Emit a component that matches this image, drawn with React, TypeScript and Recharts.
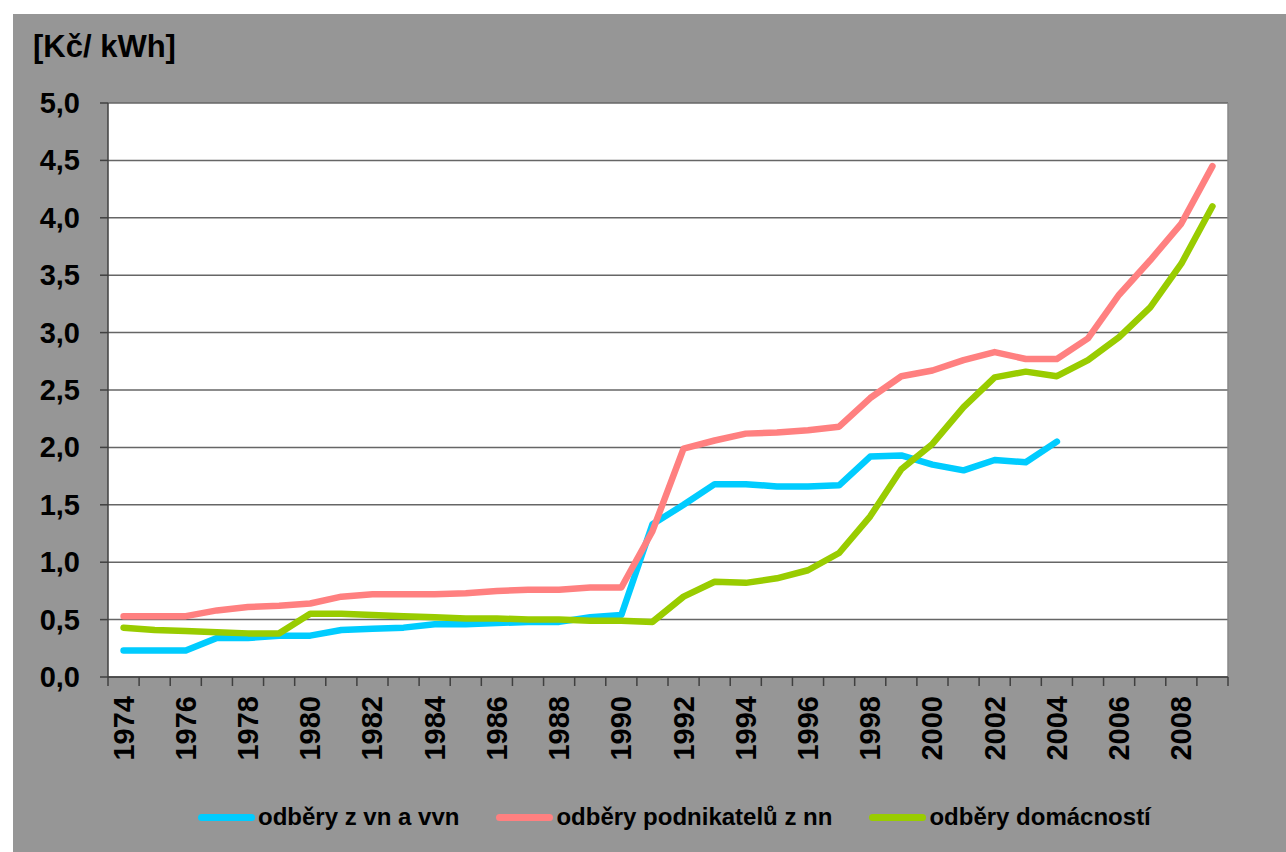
import { LineChart, Line, XAxis, YAxis, CartesianGrid, ReferenceLine } from 'recharts'

// years on the x axis, one category each
const years = [
  1974, 1975, 1976, 1977, 1978, 1979, 1980, 1981, 1982, 1983, 1984, 1985,
  1986, 1987, 1988, 1989, 1990, 1991, 1992, 1993, 1994, 1995, 1996, 1997,
  1998, 1999, 2000, 2001, 2002, 2003, 2004, 2005, 2006, 2007, 2008, 2009,
]

const labelYears = [1974, 1976, 1978, 1980, 1982, 1984, 1986, 1988, 1990, 1992, 1994, 1996, 1998, 2000, 2002, 2004, 2006, 2008]

const yTicks = [0, 0.5, 1, 1.5, 2, 2.5, 3, 3.5, 4, 4.5, 5]

// Kč/kWh
const vnVvn = [
  0.23, 0.23, 0.23, 0.34, 0.34, 0.36, 0.36, 0.41, 0.42, 0.43, 0.46, 0.46,
  0.47, 0.48, 0.48, 0.52, 0.54, 1.33, 1.50, 1.68, 1.68, 1.66, 1.66, 1.67,
  1.92, 1.93, 1.85, 1.80, 1.89, 1.87, 2.05, null, null, null, null, null,
]
const podnikateleNn = [
  0.53, 0.53, 0.53, 0.58, 0.61, 0.62, 0.64, 0.70, 0.72, 0.72, 0.72, 0.73,
  0.75, 0.76, 0.76, 0.78, 0.78, 1.27, 1.99, 2.06, 2.12, 2.13, 2.15, 2.18,
  2.43, 2.62, 2.67, 2.76, 2.83, 2.77, 2.77, 2.95, 3.33, 3.63, 3.95, 4.45,
]
const domacnosti = [
  0.43, 0.41, 0.40, 0.39, 0.38, 0.38, 0.55, 0.55, 0.54, 0.53, 0.52, 0.51,
  0.51, 0.50, 0.50, 0.49, 0.49, 0.48, 0.70, 0.83, 0.82, 0.86, 0.93, 1.08,
  1.40, 1.81, 2.03, 2.35, 2.61, 2.66, 2.62, 2.76, 2.96, 3.22, 3.60, 4.10,
]

const seriesInfo = [
  { key: 'vn', name: 'odběry z vn a vvn', color: '#00ccff' },
  { key: 'nn', name: 'odběry podnikatelů z nn', color: '#ff8080' },
  { key: 'dom', name: 'odběry domácností', color: '#99cc00' },
]

const data = years.map((year, i) => ({
  year,
  vn: vnVvn[i],
  nn: podnikateleNn[i],
  dom: domacnosti[i],
}))

// tick marks sit between categories, labels on every second year
const boundaries = [...years.map(y => y - 0.5), years[years.length - 1] + 0.5]
const xTicks = [...boundaries, ...labelYears].sort((a, b) => a - b)

const FONT = '"Liberation Sans", Arial, sans-serif'
const AXIS = '#404040'

function XTick(props: any) {
  const { x, y, payload } = props
  const v = payload.value
  if (!Number.isInteger(v)) {
    return <line x1={x} x2={x} y1={y} y2={y + 9} stroke={AXIS} strokeWidth={1.5} />
  }
  const ty = y + 19
  return (
    <text
      x={x}
      y={ty}
      transform={`rotate(-90, ${x}, ${ty})`}
      textAnchor="end"
      dominantBaseline="central"
      fontFamily={FONT}
      fontWeight="bold"
      fontSize={29}
      fill="#000"
    >
      {v}
    </text>
  )
}

function YTick(props: any) {
  const { y, payload } = props
  // right edge of the labels sits at x = 80 on the page (67 inside the grey box)
  return (
    <text x={67} y={y} textAnchor="end" dominantBaseline="central" fontFamily={FONT} fontWeight="bold" fontSize={29} fill="#000">
      {payload.value.toFixed(1).replace('.', ',')}
    </text>
  )
}

export default function App() {
  return (
    <div style={{ position: 'absolute', left: 0, top: 0, width: 1286, height: 852, background: '#fff', fontFamily: FONT }}>
      <div style={{ position: 'absolute', left: 13, top: 14, width: 1273, height: 838, background: '#969696' }}>
        <LineChart width={1273} height={838} data={data} margin={{ top: 89, right: 58, left: 0, bottom: 0 }}>
          <CartesianGrid horizontal vertical={false} stroke="#666" strokeWidth={1.5} fill="#fff" />
          <XAxis
            dataKey="year"
            type="number"
            domain={[1973.5, 2009.5]}
            ticks={xTicks}
            interval={0}
            tick={<XTick />}
            tickLine={false}
            tickSize={0}
            tickMargin={0}
            axisLine={{ stroke: AXIS, strokeWidth: 1.5 }}
            height={175}
          />
          <YAxis
            domain={[0, 5]}
            ticks={yTicks}
            interval={0}
            width={95}
            tickSize={8}
            tick={<YTick />}
            tickLine={{ stroke: AXIS, strokeWidth: 1.5 }}
            axisLine={{ stroke: AXIS, strokeWidth: 1.5 }}
          />
          <ReferenceLine x={2009.5} stroke="#888" strokeWidth={1.5} />
          {seriesInfo.map(s => (
            <Line
              key={s.key}
              type="linear"
              dataKey={s.key}
              name={s.name}
              stroke={s.color}
              strokeWidth={6.5}
              strokeLinecap="round"
              strokeLinejoin="round"
              dot={false}
              activeDot={false}
              isAnimationActive={false}
            />
          ))}
        </LineChart>
      </div>

      <div style={{ position: 'absolute', left: 33, top: 27, fontSize: 31, fontWeight: 'bold', color: '#000', lineHeight: '40px' }}>
        [Kč/ kWh]
      </div>

      <div style={{ position: 'absolute', left: 198, top: 803, display: 'flex', alignItems: 'center', gap: 37 }}>
        {seriesInfo.map(s => (
          <div key={s.key} style={{ display: 'flex', alignItems: 'center' }}>
            <span style={{ display: 'inline-block', width: 57, height: 7, borderRadius: 4, background: s.color }} />
            <span style={{ marginLeft: 3, fontSize: 24, fontWeight: 'bold', color: '#000', lineHeight: '28px' }}>{s.name}</span>
          </div>
        ))}
      </div>
    </div>
  )
}
